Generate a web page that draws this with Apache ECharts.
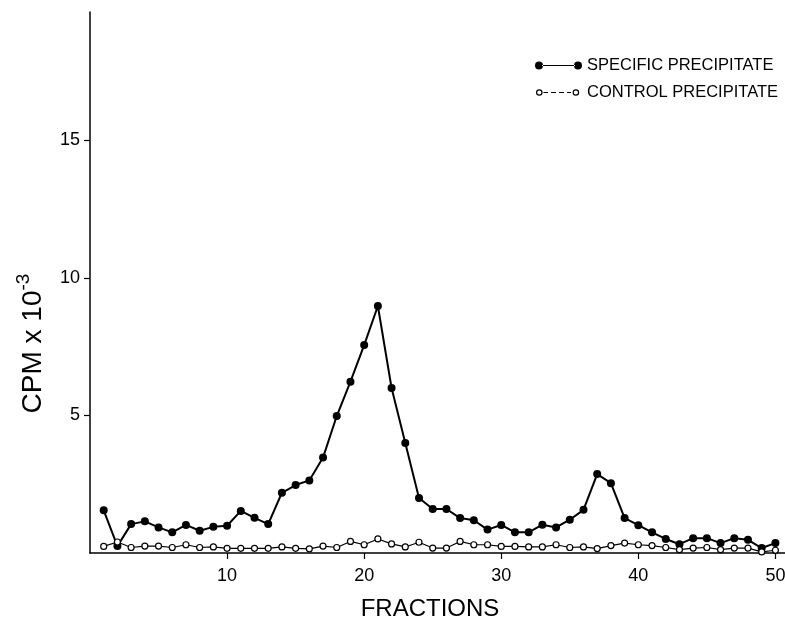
<!DOCTYPE html>
<html>
<head>
<meta charset="utf-8">
<script src="https://cdn.jsdelivr.net/npm/echarts@6/dist/echarts.min.js"></script>
<style>html,body{margin:0;padding:0;background:#fff}#c{width:785px;height:621px}</style>
</head>
<body>
<div id="c"></div>
<script>
var fractions = [1,2,3,4,5,6,7,8,9,10,11,12,13,14,15,16,17,18,19,20,21,22,23,24,25,26,27,28,29,30,31,32,33,34,35,36,37,38,39,40,41,42,43,44,45,46,47,48,49,50];
var specific = [1.55,0.25,1.05,1.15,0.93,0.75,1.02,0.81,0.95,0.99,
                1.53,1.28,1.05,2.19,2.47,2.64,3.47,4.98,6.23,7.56,
                8.98,6.0,4.0,2.0,1.6,1.6,1.27,1.19,0.85,1.02,
                0.75,0.75,1.03,0.93,1.21,1.57,2.87,2.54,1.27,1.01,
                0.75,0.51,0.32,0.54,0.54,0.36,0.54,0.48,0.18,0.36];
var control = [0.24,0.4,0.2,0.25,0.25,0.2,0.3,0.2,0.22,0.17,
               0.17,0.17,0.17,0.22,0.17,0.15,0.25,0.2,0.42,0.3,
               0.51,0.33,0.22,0.39,0.18,0.18,0.42,0.3,0.3,0.24,
               0.24,0.22,0.22,0.3,0.2,0.22,0.16,0.27,0.36,0.3,
               0.27,0.2,0.12,0.18,0.2,0.12,0.18,0.18,0.04,0.1];
var xTicks = [10,20,30,40,50];
var yTicks = [5,10,15];
var seriesNames = ['SPECIFIC PRECIPITATE','CONTROL PRECIPITATE'];

function pairs(vals){ return fractions.map(function(f,i){ return [f, vals[i]]; }); }

// legend icons (47 x 8 box)
var iconFilled = 'path://M0,4 A4,4 0 1,0 8,4 A4,4 0 1,0 0,4 Z M7,3.4 L40,3.4 L40,4.6 L7,4.6 Z M39,4 A4,4 0 1,0 47,4 A4,4 0 1,0 39,4 Z';
var iconOpen = 'path://M1,4 A3.3,3.3 0 1,1 7.6,4 A3.3,3.3 0 1,1 1,4 Z M2.2,4 A2.1,2.1 0 1,0 6.4,4 A2.1,2.1 0 1,0 2.2,4 Z '
  + 'M0,0 L0.01,0 L0.01,0.01 Z M47,8 L46.99,8 L46.99,7.99 Z '
  + 'M8.5,3.5 L13,3.5 L13,4.5 L8.5,4.5 Z M16,3.5 L21,3.5 L21,4.5 L16,4.5 Z M24,3.5 L29,3.5 L29,4.5 L24,4.5 Z M32,3.5 L36,3.5 L36,4.5 L32,4.5 Z '
  + 'M37.6,4 A3.3,3.3 0 1,1 44.2,4 A3.3,3.3 0 1,1 37.6,4 Z M38.8,4 A2.1,2.1 0 1,0 43,4 A2.1,2.1 0 1,0 38.8,4 Z';

var chart = echarts.init(document.getElementById('c'), null, {renderer:'canvas'});
chart.setOption({
  animation: false,
  backgroundColor: '#fff',
  textStyle: {fontFamily: 'Liberation Sans', color: '#000'},
  grid: {left: 90, right: 0, top: 12, bottom: 68, containLabel: false, outerBoundsMode: 'none'},
  legend: {
    orient: 'vertical', left: 530, top: 52, itemWidth: 47, itemHeight: 8, itemGap: 10,
    data: [
      {name: seriesNames[0], icon: iconFilled, itemStyle: {color: '#000', borderWidth: 0}},
      {name: seriesNames[1], icon: iconOpen, itemStyle: {color: '#000', borderWidth: 0}}
    ],
    textStyle: {fontFamily: 'Liberation Sans', fontSize: 16.5, color: '#000'}
  },
  xAxis: {
    type: 'value', min: 0, max: 50.7,
    name: 'FRACTIONS', nameLocation: 'middle', nameGap: 44,
    nameTextStyle: {fontSize: 24, color: '#000', padding: [0, 15, 0, 0]},
    axisLine: {lineStyle: {color: '#000', width: 1.5}},
    axisTick: {customValues: xTicks, length: 6, lineStyle: {color: '#000', width: 1.2}},
    axisLabel: {customValues: xTicks, fontSize: 18, color: '#000', margin: 14},
    splitLine: {show: false}
  },
  yAxis: {
    type: 'value', min: 0, max: 19.67,
    name: '{a|CPM x 10}{b|-3}', nameLocation: 'middle', nameGap: 38,
    nameTextStyle: {padding: [0, 122, 0, 0], rich: {
      a: {fontSize: 28, color: '#000', fontFamily: 'Liberation Sans'},
      b: {fontSize: 19, color: '#000', fontFamily: 'Liberation Sans', verticalAlign: 'top', lineHeight: 38}
    }},
    axisLine: {show: true, lineStyle: {color: '#000', width: 1.5}},
    axisTick: {show: true, customValues: yTicks, length: 6, lineStyle: {color: '#000', width: 1.2}},
    axisLabel: {customValues: yTicks, fontSize: 18, color: '#000', margin: 10},
    splitLine: {show: false}
  },
  series: [
    {
      name: seriesNames[0], type: 'line', data: pairs(specific),
      symbol: 'circle', symbolSize: 8,
      lineStyle: {color: '#000', width: 2},
      itemStyle: {color: '#000', borderColor: '#000', borderWidth: 0},
      z: 2
    },
    {
      name: seriesNames[1], type: 'line', data: pairs(control),
      symbol: 'circle', symbolSize: 6,
      lineStyle: {color: '#000', width: 1.2},
      itemStyle: {color: '#fff', borderColor: '#000', borderWidth: 1.2},
      z: 3
    }
  ]
});
</script>
</body>
</html>
